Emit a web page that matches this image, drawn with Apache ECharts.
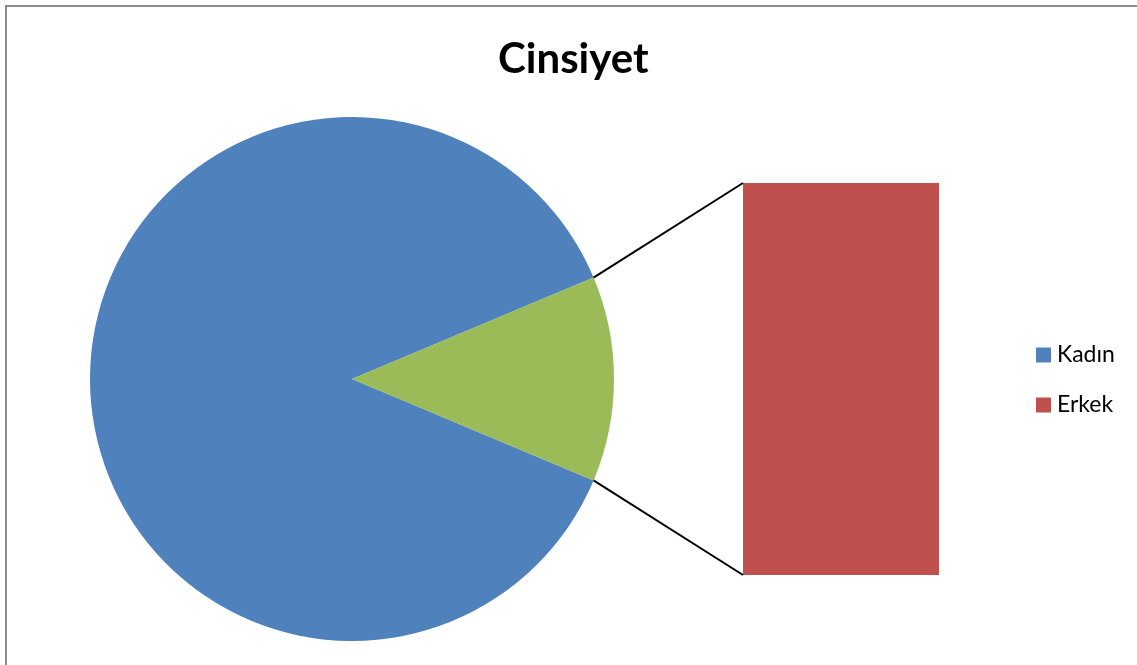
<!DOCTYPE html>
<html>
<head>
<meta charset="utf-8">
<style>
  html, body { margin: 0; padding: 0; background: #ffffff; }
  #chart { width: 1137px; height: 665px; }
</style>
<script src="https://cdn.jsdelivr.net/npm/echarts@6/dist/echarts.min.js"></script>
</head>
<body>
<div id="chart"></div>
<script>
// Gender breakdown: women shown in the pie, men broken out into the side bar
const title = 'Cinsiyet';
const pieNames = ['Kadın', 'Diğer'];
const pieValues = [138, 20];
const barNames = ['Erkek'];
const barValues = [20];
const legendNames = ['Kadın', 'Erkek'];

const colors = { kadin: '#4F81BD', diger: '#9BBB59', erkek: '#C0504D' };
const FONT = 'Lato, "Open Sans", sans-serif';

// pie layout
const pieCenter = [352, 379];
const pieRadius = 262;

// the broken-out slice is centred on the right-hand horizontal
const total = pieValues.reduce((a, b) => a + b, 0);
const halfAngle = pieValues[1] / total * 180;

const chart = echarts.init(document.getElementById('chart'), null, { renderer: 'canvas' });

const option = {
  animation: false,
  backgroundColor: '#ffffff',
  title: {
    text: title,
    left: 498,
    top: 33,
    padding: 0,
    itemGap: 0,
    textStyle: { fontFamily: FONT, fontWeight: 'bold', fontSize: 42, color: '#000000', lineHeight: 52 }
  },
  legend: {
    data: legendNames,
    orient: 'vertical',
    left: 1036,
    top: 343,
    padding: 0,
    itemWidth: 15,
    itemHeight: 15,
    itemGap: 26,
    icon: 'rect',
    selectedMode: false,
    textStyle: { fontFamily: FONT, fontSize: 23, color: '#000000', lineHeight: 24, padding: [0, 0, 0, 1] }
  },
  grid: { left: 743, top: 183, width: 196, height: 392 },
  xAxis: { type: 'category', data: barNames, show: false },
  yAxis: { type: 'value', min: 0, max: barValues[0], show: false },
  series: [
    {
      type: 'pie',
      name: 'Cinsiyet',
      center: pieCenter,
      radius: pieRadius,
      startAngle: -halfAngle,
      clockwise: true,
      label: { show: false },
      labelLine: { show: false },
      emphasis: { disabled: true },
      itemStyle: { borderWidth: 0 },
      data: [
        { name: pieNames[0], value: pieValues[0], itemStyle: { color: colors.kadin } },
        { name: pieNames[1], value: pieValues[1], itemStyle: { color: colors.diger } }
      ]
    },
    {
      type: 'bar',
      name: barNames[0],
      stack: 'breakout',
      barWidth: '100%',
      itemStyle: { color: colors.erkek },
      emphasis: { disabled: true },
      data: barValues
    }
  ]
};

chart.setOption(option);

// connector lines from the slice edges to the bar corners
function connectorGraphics() {
  const rad = halfAngle * Math.PI / 180;
  const px = pieCenter[0] + pieRadius * Math.cos(rad);
  const upY = pieCenter[1] - pieRadius * Math.sin(rad);
  const downY = pieCenter[1] + pieRadius * Math.sin(rad);

  const topY = chart.convertToPixel({ yAxisIndex: 0 }, barValues[0]);
  const botY = chart.convertToPixel({ yAxisIndex: 0 }, 0);
  const midX = chart.convertToPixel({ xAxisIndex: 0 }, barNames[0]);
  const band = chart.getModel().getComponent('xAxis', 0).axis.getBandWidth();
  const leftX = midX - band / 2;

  return [
    {
      type: 'rect',
      shape: { x: 6, y: 6, width: 1200, height: 700 },
      style: { fill: 'none', stroke: '#8c8c8c', lineWidth: 2 },
      silent: true,
      z: 0
    },
    {
      type: 'line',
      shape: { x1: px, y1: upY, x2: leftX, y2: topY },
      style: { stroke: '#000000', lineWidth: 2 },
      silent: true,
      z: 10
    },
    {
      type: 'line',
      shape: { x1: px, y1: downY, x2: leftX, y2: botY },
      style: { stroke: '#000000', lineWidth: 2 },
      silent: true,
      z: 10
    }
  ];
}

chart.setOption({ graphic: connectorGraphics() });
</script>
</body>
</html>
